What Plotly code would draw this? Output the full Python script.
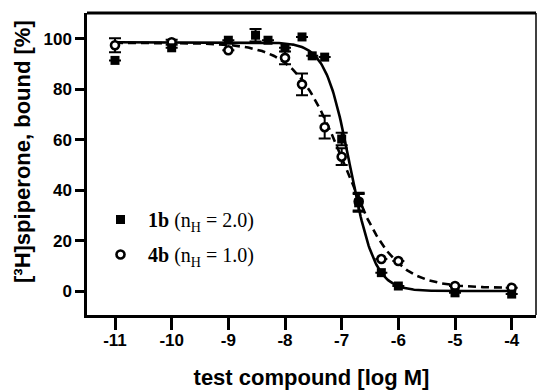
import numpy as np
import plotly.graph_objects as go

# ---- data ----
x_1b = [-11, -10, -9, -8.52, -8.3, -8, -7.7, -7.52, -7.3, -7, -6.7, -6.3, -6, -5, -4]
y_1b = [91.5, 96.5, 99.5, 101.5, 99.5, 96.5, 100.8, 93.3, 92.8, 60.3, 35.0, 7.3, 2.0, -0.7, -1.2]
e_1b = [0, 0, 0, 2.5, 0, 0, 0, 0, 0, 2.5, 3.5, 0, 0, 0, 0]

x_4b = [-11, -10, -9, -8, -7.7, -7.3, -7, -6.7, -6.3, -6, -5, -4]
y_4b = [97.5, 98.7, 95.5, 92.5, 82.0, 65.0, 53.3, 35.5, 12.7, 11.9, 2.0, 1.3]
e_4b = [2.8, 1.0, 0, 2.5, 4.3, 4.5, 3.3, 3.5, 0, 0, 0, 0]

# Hill fit parameters (nH from legend)
fit_1b = dict(top=98.7, bottom=0.0, logic50=-6.85, nh=2.0)
fit_4b = dict(top=98.5, bottom=1.2, logic50=-6.95, nh=1.0)

x_ticks = [-11, -10, -9, -8, -7, -6, -5, -4]
y_ticks = [0, 20, 40, 60, 80, 100]


def hill(x, p):
    return p["bottom"] + (p["top"] - p["bottom"]) / (1 + 10 ** ((x - p["logic50"]) * p["nh"]))


xc = np.linspace(-11, -4, 400)

fig = go.Figure()
fig.add_trace(go.Scatter(x=xc, y=hill(xc, fit_4b), mode="lines",
                         line=dict(color="black", width=2.6, dash="8px,5px"),
                         showlegend=False, hoverinfo="skip"))
fig.add_trace(go.Scatter(x=xc, y=hill(xc, fit_1b), mode="lines",
                         line=dict(color="black", width=2.6),
                         showlegend=False, hoverinfo="skip"))
fig.add_trace(go.Scatter(x=x_4b, y=y_4b, mode="markers",
                         name="<b>4b</b> (n<sub>H</sub> = 1.0)",
                         legendgroup="b", legendrank=2,
                         marker=dict(symbol="circle", size=8, color="white",
                                     line=dict(color="black", width=2.6)),
                         error_y=dict(type="data", array=e_4b, color="black",
                                      thickness=2, width=6)))
fig.add_trace(go.Scatter(x=x_1b, y=y_1b, mode="markers",
                         name="<b>1b</b> (n<sub>H</sub> = 2.0)",
                         legendgroup="a", legendrank=1,
                         marker=dict(symbol="square", size=9, color="black",
                                     line=dict(width=0)),
                         error_y=dict(type="data", array=e_1b, color="black",
                                      thickness=2, width=6)))

W, H = 539, 390
L, R, T, B = 87, 3, 13, 75
pw, ph = W - L - R, H - T - B

fig.update_layout(
    width=W, height=H,
    margin=dict(l=L, r=R, t=T, b=B, pad=0),
    paper_bgcolor="white", plot_bgcolor="white",
    font=dict(family="Liberation Sans, Arial", color="black"),
    legend=dict(x=(93 - L) / pw, y=(315 - 200) / ph, xanchor="left", yanchor="top",
                bgcolor="rgba(0,0,0,0)", borderwidth=0,
                font=dict(family="Liberation Serif, Times New Roman", size=20, color="black"),
                traceorder="grouped", tracegroupgap=6, itemwidth=45),
    xaxis=dict(range=[-11.494, -3.571], tickvals=x_ticks,
               ticktext=[str(v) for v in x_ticks],
               showgrid=False, zeroline=False,
               showline=True, linecolor="black", linewidth=2.5,
               ticks="outside", ticklen=12, tickwidth=2.5, tickcolor="black",
               ticklabelstandoff=-4,
               tickfont=dict(size=17, weight="bold"),
               title=dict(text="test compound [log M]",
                          font=dict(size=22, weight="bold"), standoff=22)),
    yaxis=dict(range=[-9.5, 110.3], tickvals=y_ticks,
               showgrid=False, zeroline=False,
               showline=True, linecolor="black", linewidth=2.5,
               ticks="outside", ticklen=9, tickwidth=2.5, tickcolor="black",
               tickfont=dict(size=17, weight="bold")),
    annotations=[dict(text="[³H]spiperone, bound [%]", textangle=-90,
                      xref="paper", yref="paper",
                      x=(22 - L) / pw, y=(315 - 152) / ph,
                      xanchor="center", yanchor="middle", showarrow=False,
                      font=dict(size=22, weight="bold"))],
    shapes=[dict(type="line", xref="paper", yref="paper", x0=0, x1=1, y0=1, y1=1,
                 line=dict(color="black", width=3)),
            dict(type="line", xref="paper", yref="paper", x0=1, x1=1, y0=0, y1=1,
                 line=dict(color="black", width=1.5))],
)

fig.write_html("out.html", config={"displayModeBar": False},
               post_script="document.body.style.margin='0';document.body.style.padding='0';")
